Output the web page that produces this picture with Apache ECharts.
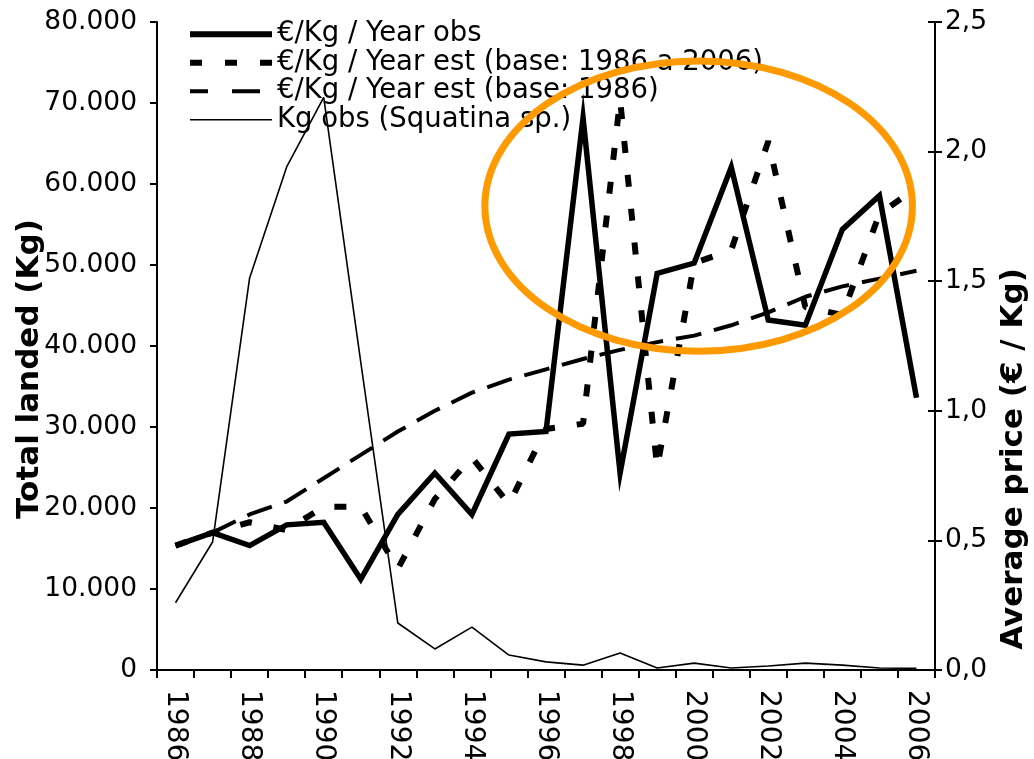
<!DOCTYPE html>
<html>
<head>
<meta charset="utf-8">
<script src="https://cdn.jsdelivr.net/npm/echarts@6/dist/echarts.min.js"></script>
<style>
  html, body { margin: 0; padding: 0; background: #fff; }
  #chart { width: 1034px; height: 759px; }
</style>
</head>
<body>
<div id="chart"></div>
<script>
// Years on the horizontal axis
const years = ['1986', '1987', '1988', '1989', '1990', '1991', '1992', '1993', '1994', '1995', '1996',
  '1997', '1998', '1999', '2000', '2001', '2002', '2003', '2004', '2005', '2006'];

// Average price, €/Kg, observed per year
const priceObs = [0.48, 0.53, 0.48, 0.56, 0.57, 0.35, 0.60, 0.76, 0.60, 0.91, 0.92,
  2.13, 0.76, 1.53, 1.57, 1.94, 1.35, 1.33, 1.70, 1.83, 1.05];

// Average price, €/Kg, estimated with base 1986 to 2006
const priceEstRange = [0.48, 0.53, 0.57, 0.54, 0.63, 0.63, 0.39, 0.66, 0.82, 0.64, 0.93,
  0.95, 2.20, 0.78, 1.57, 1.62, 2.04, 1.40, 1.37, 1.76, 1.86];

// Average price, €/Kg, estimated with base 1986
const priceEst1986 = [0.48, 0.53, 0.60, 0.65, 0.74, 0.83, 0.92, 1.00, 1.07, 1.12, 1.16,
  1.20, 1.235, 1.265, 1.29, 1.33, 1.38, 1.44, 1.48, 1.51, 1.54];

// Total landed, Kg (Squatina sp.)
const kgObs = [8300, 15800, 48400, 62100, 70700, 38000, 5800, 2600, 5300, 1850, 1000,
  600, 2100, 250, 850, 250, 500, 850, 600, 250, 200];

// Axis ranges
const kgAxis = { min: 0, max: 80000, interval: 10000 };
const priceAxis = { min: 0, max: 2.5, interval: 0.5 };

const seriesNames = [
  '€/Kg / Year obs',
  '€/Kg / Year est (base: 1986 a 2006)',
  '€/Kg / Year est (base: 1986)',
  'Kg obs (Squatina sp.)'
];

const FONT = 'DejaVu Sans';
const black = '#000';

// Legend swatches drawn as paths inside an 82x14 box; the two tiny corner
// squares pin the box so the stroke pieces keep their own thickness.
const box = 'M0,0h0.01v0.01h-0.01z M81.99,13.99h0.01v0.01h-0.01z ';
const legendIcons = [
  'path://' + box + 'M0,4h82v6h-82z',
  'path://' + box + 'M0,4h12v6h-12z M35,4h12v6h-12z M70,4h12v6h-12z',
  'path://' + box + 'M0,5h18v4h-18z M42,5h28v4h-28z',
  'path://' + box + 'M0,6.2h82v1.6h-82z'
];

const chart = echarts.init(document.getElementById('chart'), null, { renderer: 'canvas' });

const option = {
  animation: false,
  backgroundColor: '#fff',
  textStyle: { fontFamily: FONT, color: black },
  grid: { left: 157, right: 99, top: 22, bottom: 89, containLabel: false, outerBoundsMode: 'none' },
  legend: {
    orient: 'vertical',
    left: 190,
    top: 20,
    padding: 0,
    itemGap: 0,
    itemWidth: 82,
    itemHeight: 14,
    data: seriesNames.map((name, i) => ({ name, icon: legendIcons[i], itemStyle: { color: black } })),
    textStyle: { fontFamily: FONT, fontSize: 27.5, color: black, lineHeight: 28.5 }
  },
  xAxis: {
    type: 'category',
    data: years,
    boundaryGap: true,
    axisLine: { lineStyle: { color: black, width: 2 } },
    axisTick: { show: true, interval: 0, length: 8, lineStyle: { color: black, width: 2 } },
    axisLabel: {
      interval: 1,
      rotate: -90,
      margin: 20,
      fontFamily: FONT,
      fontSize: 28,
      color: black
    },
    splitLine: { show: false }
  },
  yAxis: [
    {
      type: 'value',
      position: 'left',
      min: kgAxis.min, max: kgAxis.max, interval: kgAxis.interval,
      name: 'Total landed (Kg)',
      nameLocation: 'middle',
      nameRotate: 90,
      nameGap: 112,
      nameMoveOverlap: false,
      nameTextStyle: { fontFamily: FONT, fontSize: 31, fontWeight: 'bold', color: black, padding: [0, 46, 0, 0] },
      axisLine: { show: true, lineStyle: { color: black, width: 2 } },
      axisTick: { show: true, length: 7, lineStyle: { color: black, width: 2 } },
      axisLabel: {
        margin: 20,
        fontFamily: FONT,
        fontSize: 26.5,
        color: black,
        formatter: v => String(Math.round(v)).replace(/\B(?=(\d{3})+(?!\d))/g, '.')
      },
      splitLine: { show: false }
    },
    {
      type: 'value',
      position: 'right',
      min: priceAxis.min, max: priceAxis.max, interval: priceAxis.interval,
      name: 'Average price (€ / Kg)',
      nameLocation: 'middle',
      nameRotate: 90,
      nameGap: 52,
      nameTextStyle: { fontFamily: FONT, fontSize: 31, fontWeight: 'bold', color: black, padding: [0, 226, 0, 0] },
      axisLine: { show: true, lineStyle: { color: black, width: 2 } },
      axisTick: { show: true, length: 7, lineStyle: { color: black, width: 2 } },
      axisLabel: {
        margin: 10,
        fontFamily: FONT,
        fontSize: 26.5,
        color: black,
        formatter: v => v.toFixed(1).replace('.', ',')
      },
      splitLine: { show: false }
    },
    {
      // inner half of the crossing ticks on the price axis
      type: 'value',
      position: 'right',
      min: priceAxis.min, max: priceAxis.max, interval: priceAxis.interval,
      axisLine: { show: false },
      axisTick: { show: true, inside: true, length: 7, lineStyle: { color: black, width: 2 } },
      axisLabel: { show: false },
      splitLine: { show: false }
    }
  ],
  series: [
    {
      name: seriesNames[0],
      type: 'line',
      yAxisIndex: 1,
      data: priceObs,
      symbol: 'none',
      z: 5,
      lineStyle: { color: black, width: 5.5, join: 'miter', cap: 'butt' },
      itemStyle: { color: black }
    },
    {
      name: seriesNames[1],
      type: 'line',
      yAxisIndex: 1,
      data: priceEstRange,
      symbol: 'none',
      z: 4,
      lineStyle: { color: black, width: 6, type: [12, 22], cap: 'butt' },
      itemStyle: { color: black }
    },
    {
      name: seriesNames[2],
      type: 'line',
      yAxisIndex: 1,
      data: priceEst1986,
      symbol: 'none',
      z: 3,
      lineStyle: { color: black, width: 4, type: [26, 13], cap: 'butt' },
      itemStyle: { color: black }
    },
    {
      name: seriesNames[3],
      type: 'line',
      yAxisIndex: 0,
      data: kgObs,
      symbol: 'none',
      z: 2,
      lineStyle: { color: black, width: 1.6 },
      itemStyle: { color: black }
    }
  ]
};

chart.setOption(option);

// Orange ellipse highlighting the 1997-2006 price swings, placed from the axes
const xPix = y => chart.convertToPixel({ xAxisIndex: 0 }, y);
const pPix = v => chart.convertToPixel({ yAxisIndex: 1 }, v);
const band = xPix('1987') - xPix('1986');
chart.setOption({
  graphic: [{
    type: 'ellipse',
    z: 100,
    shape: {
      cx: xPix('2000') + 0.12 * band,
      cy: pPix(1.79),
      rx: 5.77 * band,
      ry: pPix(0) - pPix(0.56)
    },
    style: { fill: null, stroke: '#FF9900', lineWidth: 7 }
  }]
});
</script>
</body>
</html>
